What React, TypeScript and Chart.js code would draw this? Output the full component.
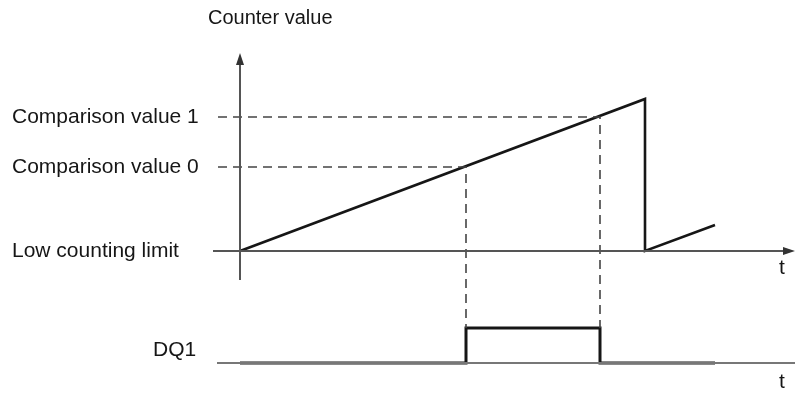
import React, { useEffect, useRef } from "react";
import { Chart, registerables } from "chart.js";
Chart.register(...registerables);

// Counter levels (left labels)
const levelNames = ["Low counting limit", "Comparison value 0", "Comparison value 1"];
const levelValues = [0, 8.4, 13.4];

// Counter value course over time
const counterTimes = [0, 40.5, 40.5, 47.5];
const counterValues = [0, 15.2, 0, 2.6];

// Times at which counter crosses comparison value 0 and 1
const crossTimes = [22.6, 36];

// DQ1 output signal
const dq1Times = [0, 22.6, 22.6, 36, 36, 47.5];
const dq1States = [0, 0, 1, 1, 0, 0];

// Lane levels for DQ1 on the shared vertical scale
const DQ1_LOW = -11.2;
const DQ1_HIGH = -7.7;

const FONT = "'Liberation Sans', Arial, Helvetica, sans-serif";
const AXIS = "#555555";
const INK = "#161616";

function makeArrow(): HTMLCanvasElement {
  const c = document.createElement("canvas");
  c.width = 8;
  c.height = 12;
  const g = c.getContext("2d")!;
  g.fillStyle = "#333333";
  g.beginPath();
  g.moveTo(4, 0);
  g.lineTo(8, 12);
  g.lineTo(0, 12);
  g.closePath();
  g.fill();
  return c;
}

export default function App() {
  const ref = useRef<HTMLCanvasElement>(null);

  useEffect(() => {
    document.body.style.margin = "0";
    const arrow = makeArrow();
    const pts = (xs: number[], ys: number[]) => xs.map((x, i) => ({ x, y: ys[i] }));

    const textPlugin = {
      id: "texts",
      afterDraw(chart: any) {
        const { ctx } = chart;
        const xs = chart.scales.x;
        const ys = chart.scales.y;
        ctx.save();
        ctx.fillStyle = INK;
        ctx.textBaseline = "middle";
        ctx.textAlign = "left";
        ctx.font = `20px ${FONT}`;
        ctx.fillText("Counter value", xs.getPixelForValue(-3.2), ys.getPixelForValue(23.3));
        ctx.font = `21px ${FONT}`;
        ctx.fillText("DQ1", xs.getPixelForValue(-8.7), ys.getPixelForValue(-9.9));
        ctx.textAlign = "center";
        ctx.fillText("t", xs.getPixelForValue(54.2), ys.getPixelForValue(-1.7));
        ctx.fillText("t", xs.getPixelForValue(54.2), ys.getPixelForValue(-13.1));
        ctx.restore();
      },
    };

    const line = (data: any[], color: string, width: number, extra: any = {}) => ({
      data,
      borderColor: color,
      backgroundColor: color,
      borderWidth: width,
      pointRadius: 0,
      pointHoverRadius: 0,
      showLine: true,
      fill: false,
      tension: 0,
      clip: false,
      ...extra,
    });

    const chart = new Chart(ref.current!, {
      type: "scatter",
      data: {
        datasets: [
          // vertical counter axis with arrow
          line(pts([0, 0], [-2.9, 19.2]), AXIS, 2, {
            pointStyle: arrow,
            pointRadius: [0, 6],
            pointRotation: 0,
          }),
          // upper time axis with arrow
          line(pts([-2.7, 54.9], [0, 0]), AXIS, 2, {
            pointStyle: arrow,
            pointRadius: [0, 6],
            pointRotation: 90,
          }),
          // lower time axis
          line(pts([-2.3, 55.5], [DQ1_LOW, DQ1_LOW]), "#777777", 2),
          // comparison value 0 guide
          line(
            pts([-2.2, crossTimes[0], crossTimes[0]], [levelValues[1], levelValues[1], DQ1_HIGH]),
            "#444444",
            1.6,
            { borderDash: [9, 6] }
          ),
          // comparison value 1 guide
          line(
            pts([-2.2, crossTimes[1], crossTimes[1]], [levelValues[2], levelValues[2], DQ1_HIGH]),
            "#444444",
            1.6,
            { borderDash: [9, 6] }
          ),
          // counter value
          line(pts(counterTimes, counterValues), INK, 2.6),
          // DQ1
          line(
            pts(dq1Times, dq1States.map((s) => (s ? DQ1_HIGH : DQ1_LOW))),
            INK,
            3
          ),
        ],
      },
      options: {
        responsive: false,
        animation: false,
        events: [],
        layout: { autoPadding: false, padding: { top: 30, left: 12, right: 0, bottom: 0 } },
        plugins: { legend: { display: false }, tooltip: { enabled: false }, title: { display: false } },
        scales: {
          x: { type: "linear", min: -4, max: 55.5, display: false },
          y: {
            type: "linear",
            min: -14.2,
            max: 22.1,
            grid: { display: false },
            border: { display: false },
            afterFit: (s: any) => {
              s.width = 188;
              s.paddingTop = 0;
              s.paddingBottom = 0;
            },
            afterBuildTicks: (s: any) => {
              s.ticks = levelValues.map((v) => ({ value: v }));
            },
            ticks: {
              autoSkip: false,
              crossAlign: "far",
              padding: 0,
              color: INK,
              font: { family: FONT, size: 21 },
              callback: (v: any) => {
                const i = levelValues.indexOf(Number(v));
                return i >= 0 ? levelNames[i] : "";
              },
            },
          },
        },
      },
      plugins: [textPlugin],
    } as any);
    return () => chart.destroy();
  }, []);

  return (
    <div style={{ position: "fixed", left: 0, top: 0, width: 795, height: 393, background: "#fff" }}>
      <canvas ref={ref} width={795} height={393} />
    </div>
  );
}
